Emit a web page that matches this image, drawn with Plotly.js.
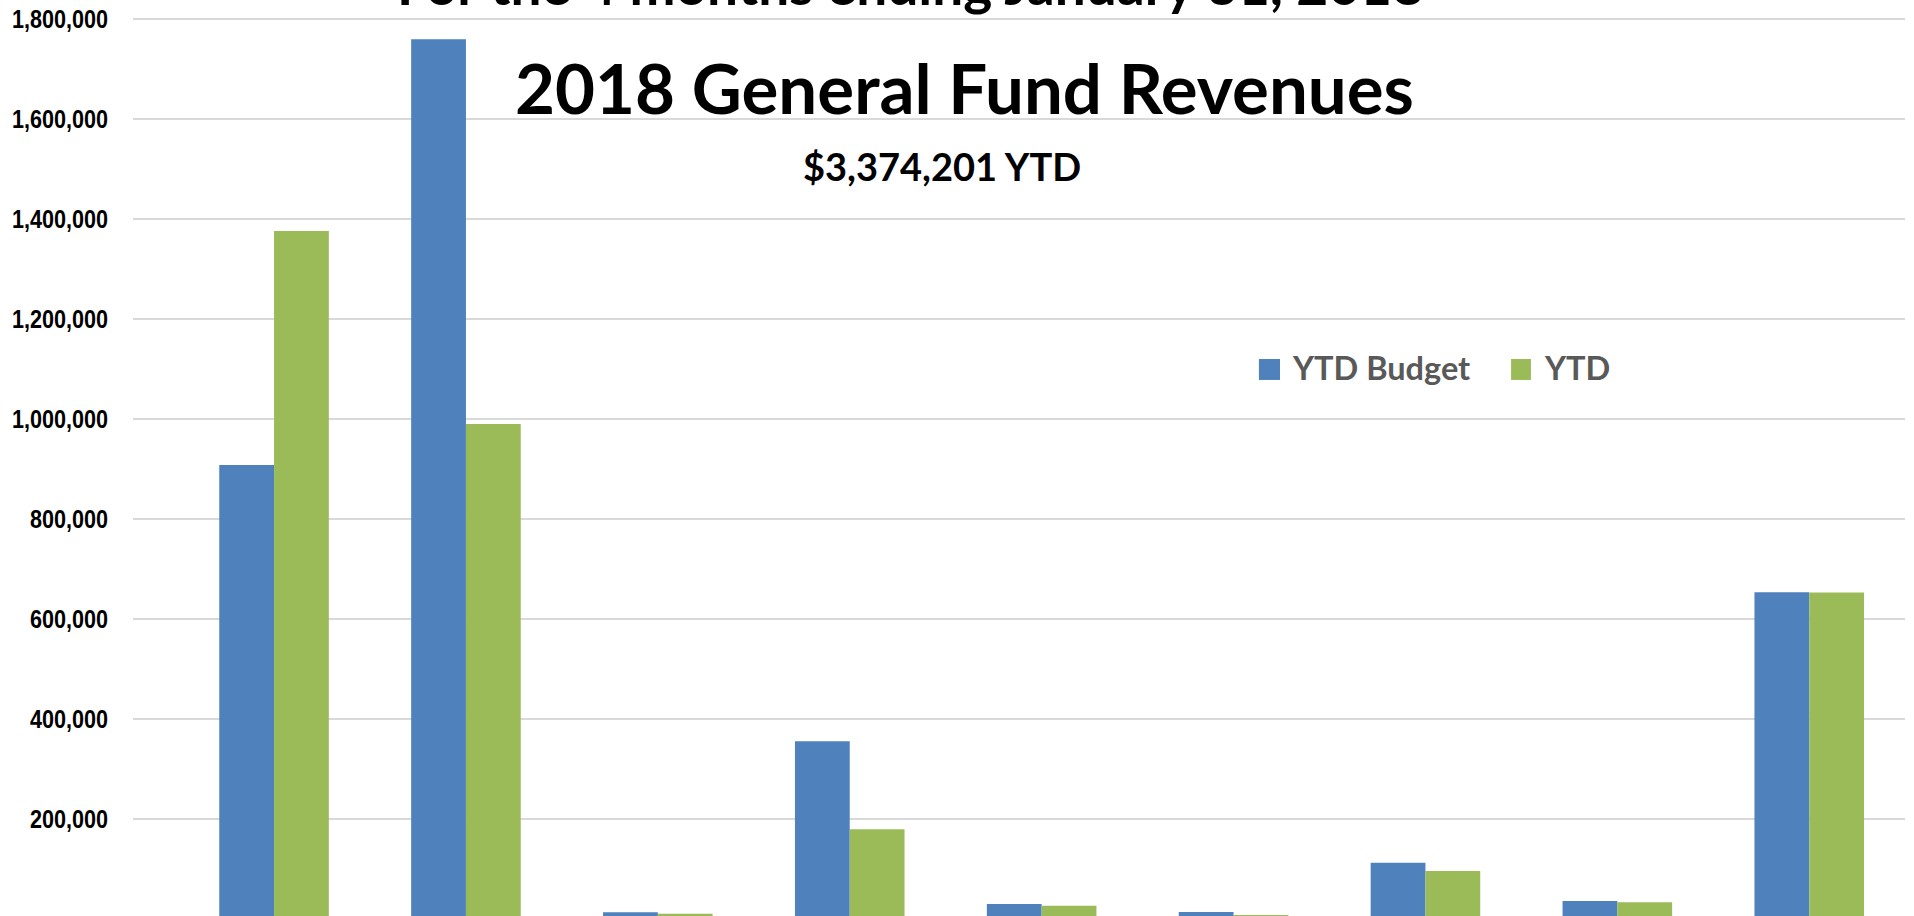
<!DOCTYPE html>
<html>
<head>
<meta charset="utf-8">
<script src="https://cdn.plot.ly/plotly-3.0.1.min.js"></script>
<style>
  html, body { margin: 0; padding: 0; background: #ffffff; }
  #chart { width: 1914px; height: 916px; }
</style>
</head>
<body>
<div id="chart"></div>
<script>
// ---- data (category names are not visible in the crop) ----
const categories = ["Category 1", "Category 2", "Category 3", "Category 4", "Category 5",
                    "Category 6", "Category 7", "Category 8", "Category 9"];
const seriesNames = ["YTD Budget", "YTD"];
const ytdBudget = [908600, 1760300, 13600, 355700, 30200, 14200, 112800, 36200, 653900];
const ytdActual = [1376700, 990600, 10800, 179700, 26800, 8200, 96200, 33600, 653500];
const tickValues = [200000, 400000, 600000, 800000, 1000000, 1200000, 1400000, 1600000, 1800000];
const titleTop = "For the 4 months ending January 31, 2018";
const titleMain = "2018 General Fund Revenues";
const subTitle = "$3,374,201 YTD";

const blue = "#4F81BD";
const green = "#9BBB59";
const titleFont = "Lato, 'Open Sans', sans-serif";
const axisFont = "'Liberation Sans', Arial, sans-serif";

const traces = [
  { type: "bar", name: seriesNames[0], x: categories, y: ytdBudget,
    marker: { color: blue, line: { width: 0 } }, showlegend: false, hoverinfo: "skip" },
  { type: "bar", name: seriesNames[1], x: categories, y: ytdActual,
    marker: { color: green, line: { width: 0 } }, showlegend: false, hoverinfo: "skip" }
];

const layout = {
  width: 1914, height: 916,
  margin: { l: 133, r: 9, t: 0, b: 0, pad: 0 },
  paper_bgcolor: "#ffffff", plot_bgcolor: "#ffffff",
  barmode: "group", bargap: 0.429, bargroupgap: 0,
  showlegend: false,
  xaxis: { type: "category", range: [-0.735, 8.499], showticklabels: false,
           showgrid: false, zeroline: false, showline: false, ticks: "" },
  yaxis: { range: [6200, 1838600], tickvals: tickValues, tickformat: ",d",
           showgrid: true, gridcolor: "#d9d9d9", gridwidth: 2,
           zeroline: false, showline: false, ticks: "", ticklabelstandoff: 24,
           tickfont: { family: axisFont, size: 26, color: "#000000", weight: "bold" } },
  shapes: [
    { type: "rect", xref: "paper", yref: "paper", x0: 0.6354, x1: 0.6473, y0: 0.5852, y1: 0.6081,
      fillcolor: blue, line: { width: 0 } },
    { type: "rect", xref: "paper", yref: "paper", x0: 0.7777, x1: 0.7889, y0: 0.5852, y1: 0.6081,
      fillcolor: green, line: { width: 0 } }
  ],
  annotations: [
    { text: titleTop, xref: "paper", yref: "paper", x: 0.439, y: 0.9793,
      xanchor: "center", yanchor: "bottom", showarrow: false,
      font: { family: titleFont, size: 55, color: "#000000", weight: "bold" } },
    { text: titleMain, xref: "paper", yref: "paper", x: 0.469, y: 0.905,
      xanchor: "center", yanchor: "middle", showarrow: false,
      font: { family: titleFont, size: 69, color: "#000000", weight: "bold" } },
    { text: subTitle, xref: "paper", yref: "paper", x: 0.4563, y: 0.8193,
      xanchor: "center", yanchor: "middle", showarrow: false,
      font: { family: titleFont, size: 38, color: "#000000", weight: "bold" } },
    { text: seriesNames[0], xref: "paper", yref: "paper", x: 0.6529, y: 0.5993,
      xanchor: "left", yanchor: "middle", showarrow: false,
      font: { family: titleFont, size: 32.5, color: "#595959", weight: "bold" } },
    { text: seriesNames[1], xref: "paper", yref: "paper", x: 0.7950, y: 0.5993,
      xanchor: "left", yanchor: "middle", showarrow: false,
      font: { family: titleFont, size: 32.5, color: "#595959", weight: "bold" } }
  ]
};

Plotly.newPlot("chart", traces, layout, { displayModeBar: false, staticPlot: true }).then(function () {
  // the reference's axis labels use a narrow bold face: condense the real text labels
  document.querySelectorAll("#chart .ytick text").forEach(function (t) {
    const w = t.getComputedTextLength();
    t.setAttribute("textLength", (w * 0.83).toFixed(1));
    t.setAttribute("lengthAdjust", "spacingAndGlyphs");
  });
});
</script>
</body>
</html>
